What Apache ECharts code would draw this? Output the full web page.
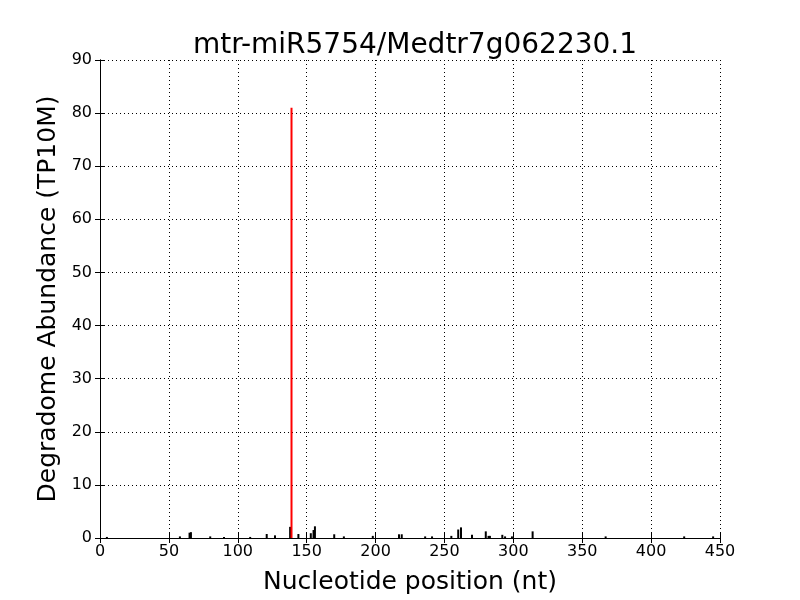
<!DOCTYPE html>
<html>
<head>
<meta charset="utf-8">
<script src="https://cdn.jsdelivr.net/npm/echarts@6/dist/echarts.min.js"></script>
<style>
  html, body { margin: 0; padding: 0; background: #fff; }
  #main { width: 800px; height: 600px; }
</style>
</head>
<body>
<div id="main"></div>
<script>
// background degradome reads (position, abundance)
const positions = [5, 58, 65, 66, 80, 90, 109, 121, 127, 138, 144, 153, 155, 156, 170, 177, 198, 217, 219,
  236, 241, 255, 260, 262, 270, 280, 282, 283, 292, 294, 299, 314, 367, 424, 445]
const abundance = [0.2, 0.3, 1.0, 1.1, 0.3, 0.2, 0.2, 0.75, 0.5, 2.1, 0.75, 0.9, 1.5, 2.2, 0.7, 0.3, 0.4, 0.7, 0.7,
  0.3, 0.3, 0.4, 1.6, 2.0, 0.6, 1.25, 0.4, 0.4, 0.6, 0.3, 0.3, 1.25, 0.3, 0.3, 0.3]
// cleavage site
const sitePos = [139]
const siteVal = [81]
const xTicks = [0, 450, 50]
const yTicks = [0, 90, 10]

const font = 'DejaVu Sans'
const chart = echarts.init(document.getElementById('main'))

const tickAxis = {
  axisLine: { show: true, lineStyle: { color: '#000', width: 1 } },
  axisTick: { show: true, inside: true, length: 5, lineStyle: { color: '#000' } },
  axisLabel: { show: false },
  splitLine: { show: false }
}

chart.setOption({
  backgroundColor: '#fff',
  animation: false,
  title: {
    text: 'mtr-miR5754/Medtr7g062230.1',
    left: 410,
    textAlign: 'center',
    top: 27,
    textStyle: { fontFamily: font, fontSize: 28, fontWeight: 'normal', color: '#000' }
  },
  grid: { left: 100, right: 80, top: 60, bottom: 60 },
  xAxis: [
    {
      type: 'value', min: xTicks[0], max: xTicks[1], interval: xTicks[2],
      name: 'Nucleotide position (nt)', nameLocation: 'middle', nameGap: 32,
      nameTextStyle: { fontFamily: font, fontSize: 25, color: '#000' },
      axisLine: { show: true, onZero: false, lineStyle: { color: '#000', width: 1 } },
      axisTick: { show: true, inside: true, length: 5, lineStyle: { color: '#000' } },
      axisLabel: { fontFamily: font, fontSize: 16, color: '#000', margin: 6 },
      splitLine: { show: true, lineStyle: { color: '#000', type: [1, 3], width: 1 } }
    },
    Object.assign({ type: 'value', position: 'top', min: xTicks[0], max: xTicks[1], interval: xTicks[2] }, tickAxis)
  ],
  yAxis: [
    {
      type: 'value', min: yTicks[0], max: yTicks[1], interval: yTicks[2],
      name: 'Degradome Abundance (TP10M)', nameLocation: 'middle', nameGap: 34,
      nameTextStyle: { fontFamily: font, fontSize: 25, color: '#000' },
      axisLine: { show: true, lineStyle: { color: '#000', width: 1 } },
      axisTick: { show: true, inside: true, length: 5, lineStyle: { color: '#000' } },
      axisLabel: { fontFamily: font, fontSize: 16, color: '#000', margin: 8 },
      splitLine: { show: true, lineStyle: { color: '#000', type: [1, 3], width: 1 } }
    },
    Object.assign({ type: 'value', position: 'right', min: yTicks[0], max: yTicks[1], interval: yTicks[2] }, tickAxis)
  ],
  series: [
    {
      type: 'bar', barWidth: 2, barGap: '-100%',
      itemStyle: { color: '#000' },
      data: positions.map((p, i) => [p, abundance[i]])
    },
    {
      type: 'bar', barWidth: 2, barGap: '-100%',
      itemStyle: { color: '#ff0000' },
      data: sitePos.map((p, i) => [p, siteVal[i]])
    }
  ]
})
</script>
</body>
</html>
